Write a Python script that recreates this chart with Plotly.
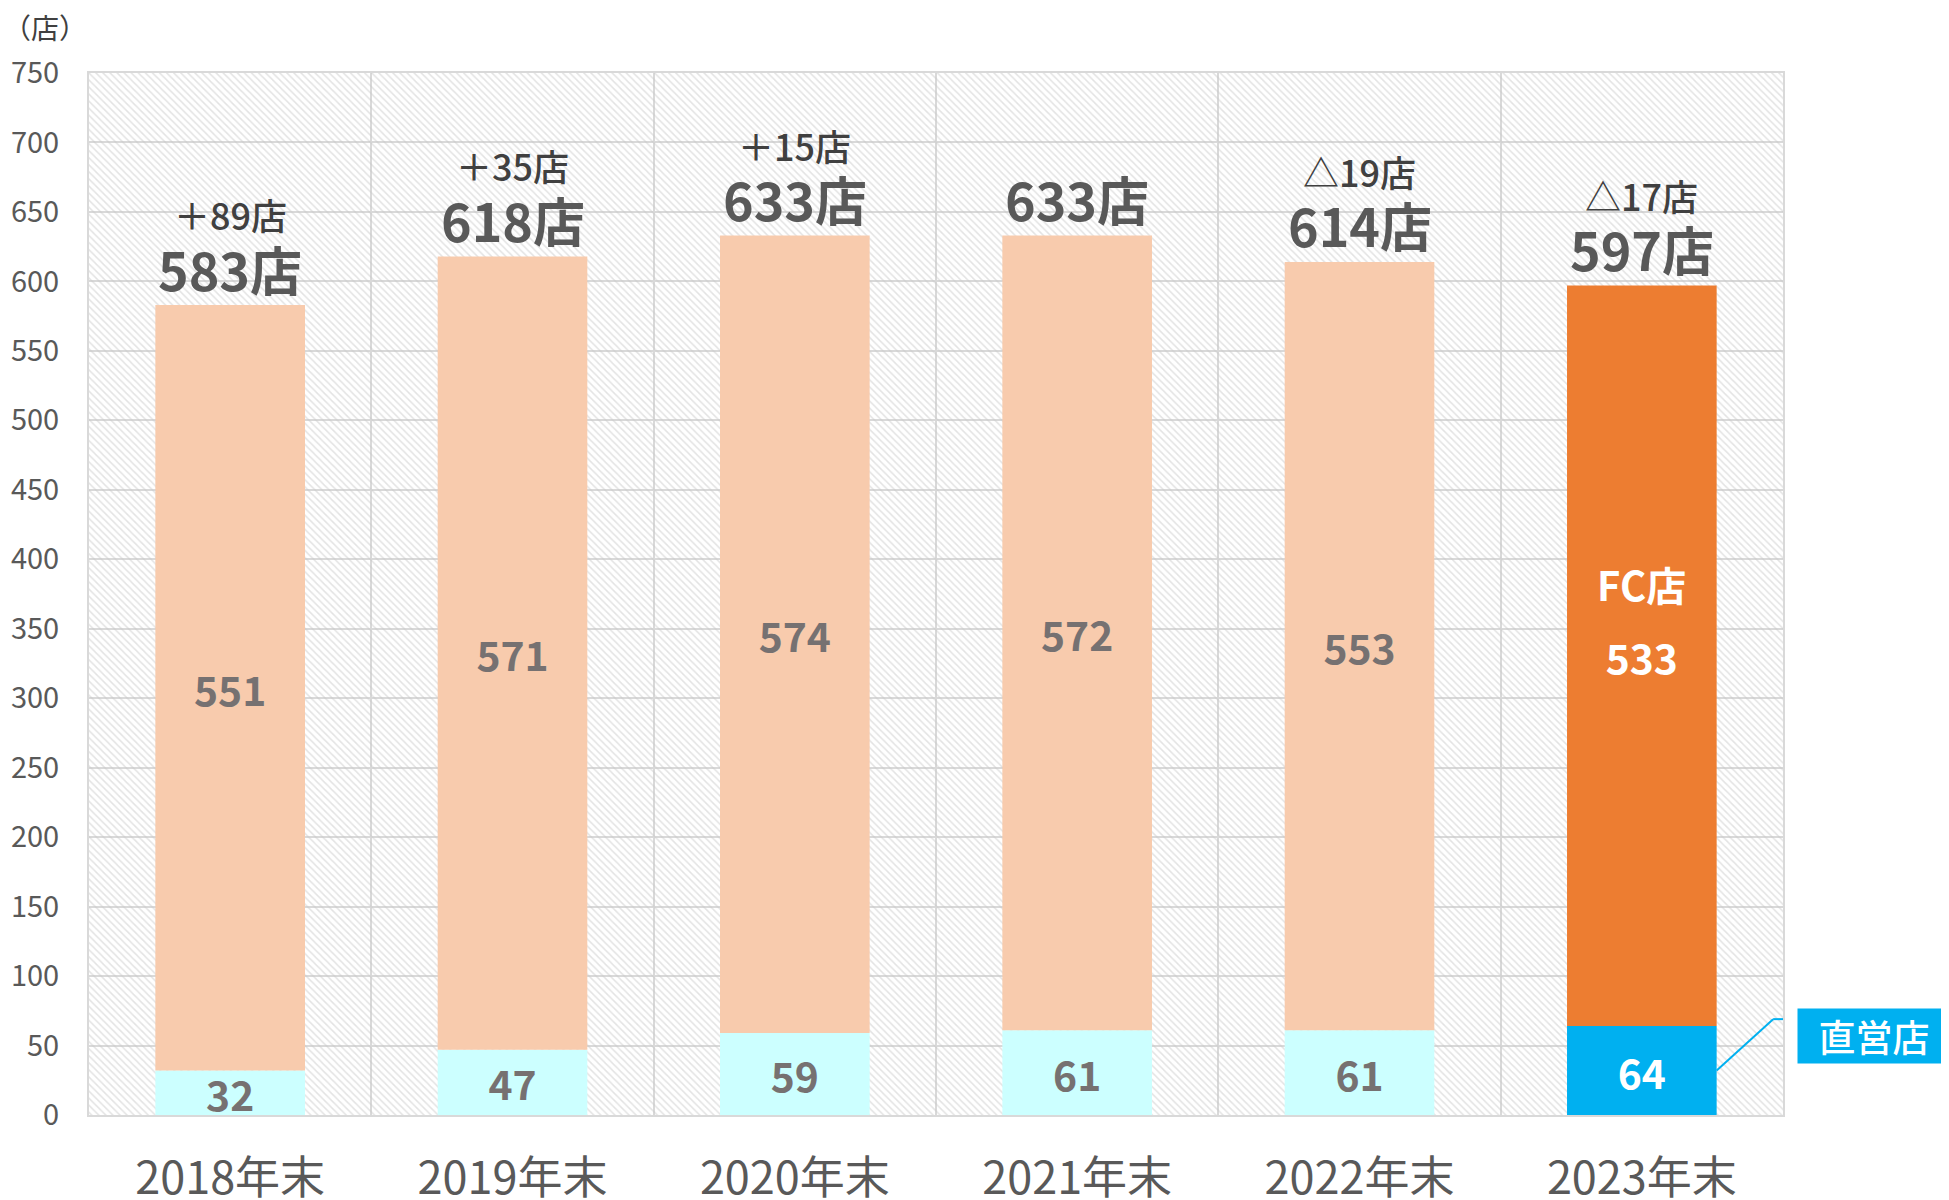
import plotly.graph_objects as go

categories = ["2018年末", "2019年末", "2020年末", "2021年末", "2022年末", "2023年末"]
direct_stores = [32, 47, 59, 61, 61, 64]
fc_stores = [551, 571, 574, 572, 553, 533]
delta_labels = ["＋89店", "＋35店", "＋15店", "", "△19店", "△17店"]
y_ticks = list(range(0, 751, 50))
Y_MAX = 750

totals = [d + f for d, f in zip(direct_stores, fc_stores)]

FONT = "Noto Sans CJK JP"
last = len(categories) - 1
direct_colors = ["#CCFFFF"] * last + ["#00B0F0"]
fc_colors = ["#F8CBAD"] * last + ["#ED7D31"]
text_colors = ["#767171"] * last + ["#FFFFFF"]
BAR_W = 0.53

fig = go.Figure()

# hatched plot background
fig.add_trace(go.Bar(
    x=categories, y=[Y_MAX] * len(categories), width=1,
    marker=dict(color="rgba(0,0,0,0)", line=dict(width=0),
                pattern=dict(shape="\\", fgcolor="#c8c8c8", bgcolor="rgba(0,0,0,0)",
                             size=5, solidity=0.3)),
    hoverinfo="skip", showlegend=False,
))

fig.add_trace(go.Bar(
    x=categories, y=direct_stores, width=BAR_W, name="直営店",
    marker=dict(color=direct_colors, line=dict(width=0)),
    text=direct_stores, texttemplate="%{text}", textposition="inside",
    insidetextanchor="middle", textangle=0,
    textfont=dict(family=FONT, size=42, color=text_colors, weight="bold"),
    showlegend=False,
))

fig.add_trace(go.Bar(
    x=categories, y=fc_stores, base=direct_stores, width=BAR_W, name="FC店",
    marker=dict(color=fc_colors, line=dict(width=0)),
    text=fc_stores, texttemplate="%{text}", textposition="inside",
    insidetextanchor="middle", textangle=0,
    textfont=dict(family=FONT, size=42, color=text_colors, weight="bold"),
    showlegend=False,
))

annotations = []
for cat, tot, dl in zip(categories, totals, delta_labels):
    annotations.append(dict(
        x=cat, y=tot, xref="x", yref="y", text=f"{tot}店", showarrow=False,
        yanchor="middle", yshift=37,
        font=dict(family=FONT, size=52, color="#595959", weight="bold"),
    ))
    if dl:
        annotations.append(dict(
            x=cat, y=tot, xref="x", yref="y", text=dl, showarrow=False,
            yanchor="middle", yshift=91,
            font=dict(family=FONT, size=36, color="#404040", weight=500),
        ))

# FC店 label in the last bar
annotations.append(dict(
    x=categories[last], y=direct_stores[last] + fc_stores[last] / 2,
    xref="x", yref="y", text="FC店", showarrow=False, yanchor="middle", yshift=72,
    font=dict(family=FONT, size=40, color="#FFFFFF", weight="bold"),
))

# 直営店 callout
annotations.append(dict(
    x=1.0537, y=0.0758, xref="paper", yref="paper", text="直営店", showarrow=False,
    xanchor="center", yanchor="middle", bgcolor="#00B0F0", width=150, height=52,
    font=dict(family=FONT, size=37, color="#FFFFFF", weight=500),
))

# unit label
annotations.append(dict(
    x=-0.052, y=1.044, xref="paper", yref="paper", text="（店）", showarrow=False,
    xanchor="left", yanchor="middle",
    font=dict(family=FONT, size=28, color="#404040"),
))

# leader line for the callout (data coordinates derived from the last bar)
x_edge = last + BAR_W / 2
shapes = [
    dict(type="line", xref="x", yref="y", x0=x_edge, y0=direct_stores[last] / 2,
         x1=last + 0.465, y1=69, line=dict(color="#00B0F0", width=2)),
    dict(type="line", xref="x", yref="y", x0=last + 0.465, y0=69,
         x1=last + 0.514, y1=69, line=dict(color="#00B0F0", width=2)),
]

fig.update_layout(
    width=1941, height=1192,
    margin=dict(l=81, r=166, t=65, b=85, autoexpand=False),
    paper_bgcolor="white", plot_bgcolor="white",
    barmode="overlay",
    uniformtext=dict(minsize=38, mode="show"),
    annotations=annotations, shapes=shapes,
    font=dict(family=FONT),
)

fig.update_xaxes(
    type="category", tickson="boundaries", showgrid=True, gridcolor="#d9d9d9", gridwidth=2,
    showline=True, linecolor="#d9d9d9", linewidth=2, mirror=True,
    ticks="", ticklabelstandoff=23, automargin=False,
    tickfont=dict(family=FONT, size=45, color="#595959"),
    range=[-0.5, len(categories) - 0.5],
)
fig.update_yaxes(
    range=[0, Y_MAX], tickvals=y_ticks, showgrid=True, gridcolor="#d9d9d9", gridwidth=2,
    showline=True, linecolor="#d9d9d9", linewidth=2, mirror=True,
    ticks="", ticklabelstandoff=22, zeroline=False, automargin=False,
    tickfont=dict(family=FONT, size=29, color="#595959"),
)

fig.write_html("out.html")
